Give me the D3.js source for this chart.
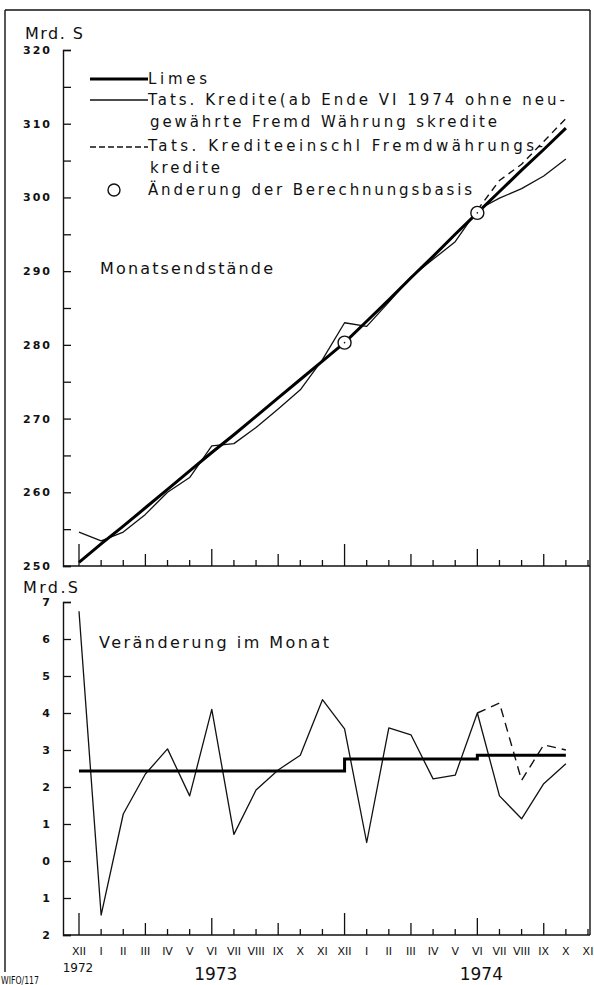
<!DOCTYPE html>
<html><head><meta charset="utf-8">
<script src="https://cdn.jsdelivr.net/npm/d3@7"></script>
<style>
body{margin:0;background:#fff}
svg{display:block}
text{fill:#111}
</style>
</head><body>
<svg id="c" width="594" height="985"></svg>
<script>
// ---------- DATA ----------
const months = ["XII","I","II","III","IV","V","VI","VII","VIII","IX","X","XI",
                "XII","I","II","III","IV","V","VI","VII","VIII","IX","X","XI"];
const years = ["1972","1973","1974"];
const yearMonthIndex = [0, 6, 18];

// Monatsendstände (Mrd. S), XII 1972 .. X 1974
const limesStand  = [250.5,253.0,255.4,257.9,260.4,262.9,265.4,267.8,270.3,272.8,275.3,277.8,
                     280.3,283.2,286.1,289.1,292.0,295.0,297.9,300.8,303.7,306.5,309.4];
const kreditStand = [254.6,253.4,254.6,257.0,260.0,262.0,266.3,266.6,268.8,271.3,273.9,278.0,
                     283.0,282.5,285.8,289.2,291.6,294.0,298.3,299.9,301.2,302.9,305.2];
const kreditFWStart = 18;
const kreditFWStand = [298.3,302.3,304.5,307.6,310.7];
const basisChangeMonths = [12, 18];

// Veränderung im Monat (Mrd. S)
const limesChange  = [2.43,2.43,2.43,2.43,2.43,2.43,2.43,2.43,2.43,2.43,2.43,2.43,
                      2.76,2.76,2.76,2.76,2.76,2.76,2.86,2.86,2.86,2.86,2.86];
const kreditChange = [6.75,-1.46,1.27,2.35,3.03,1.76,4.10,0.72,1.92,2.46,2.86,4.36,
                      3.57,0.50,3.60,3.41,2.22,2.32,4.00,1.76,1.14,2.09,2.63];
const kreditFWChange = [4.00,4.27,2.18,3.14,3.00];

const topTicks = [250,255,260,265,270,275,280,285,290,295,300,305,310,315,320];
const botTicks = [-2,-1,0,1,2,3,4,5,6,7];

const legendLabels = ["Limes",
  "Tats. Kredite(ab Ende VI 1974 ohne neu-",
  "gewährte Fremd Währung skredite",
  "Tats. Krediteeinschl Fremdwährungs-",
  "kredite",
  "Änderung der Berechnungsbasis"];

// ---------- DRAW ----------
const svg = d3.select("#c");
const FONT = "'DejaVu Sans', sans-serif";
const NUMFONT = "'DejaVu Sans', sans-serif";

const x = d3.scalePoint().domain(d3.range(months.length)).range([79, 588]);
const yTop = d3.scaleLinear().domain([250, 320]).range([566, 50]);
const yBot = d3.scaleLinear().domain([-2, 7]).range([935, 602]);

// frame
const frame = svg.append("g").attr("stroke", "#111").attr("stroke-width", 1.4).attr("fill", "none");
frame.append("line").attr("x1", 5).attr("y1", 10).attr("x2", 5).attr("y2", 972);
frame.append("line").attr("x1", 5).attr("y1", 10).attr("x2", 590).attr("y2", 10);
frame.append("line").attr("x1", 590).attr("y1", 10).attr("x2", 590).attr("y2", 935);

// y axes
function yAxis(scale, ticks, fmt) {
  const g = svg.append("g").attr("transform", "translate(63,0)")
    .call(d3.axisLeft(scale).tickValues(ticks).tickSizeInner(-8).tickSizeOuter(-8)
      .tickPadding(11).tickFormat(fmt));
  g.select(".domain").attr("stroke", "#111").attr("stroke-width", 1.4);
  g.selectAll(".tick line").attr("stroke", "#111").attr("stroke-width", 1.3);
  g.selectAll(".tick text").attr("font-family", NUMFONT).attr("font-weight", "bold")
    .attr("font-size", 11).attr("letter-spacing", 2).attr("fill", "#111");
  return g;
}
yAxis(yTop, topTicks, d => d % 10 === 0 ? d : "");
yAxis(yBot, botTicks, d => Math.abs(d));

// x baselines
function xBase(y0) {
  svg.append("line").attr("x1", 63).attr("x2", 590).attr("y1", y0).attr("y2", y0)
    .attr("stroke", "#111").attr("stroke-width", 1.4);
  const tickLen = m => m === "XII" ? 22 : m === "VI" ? 17 : (m === "III" || m === "IX") ? 12 : 6;
  svg.append("g").selectAll("line").data(months).join("line")
    .attr("x1", (d, i) => x(i)).attr("x2", (d, i) => x(i))
    .attr("y1", y0).attr("y2", d => y0 - tickLen(d))
    .attr("stroke", "#111").attr("stroke-width", 1.3);
}
xBase(566);
xBase(935);

// month labels
svg.append("g").selectAll("text").data(months).join("text")
  .attr("x", (d, i) => x(i)).attr("y", 955).attr("text-anchor", "middle")
  .attr("font-family", FONT).attr("font-size", 11).text(d => d);
svg.append("g").selectAll("text").data(years).join("text")
  .attr("x", (d, i) => x(yearMonthIndex[i]) + (i === 0 ? -1 : 4))
  .attr("y", (d, i) => i === 0 ? 972 : 980)
  .attr("text-anchor", "middle").attr("font-family", FONT)
  .attr("font-size", (d, i) => i === 0 ? 12 : 17).text(d => d);
svg.append("text").attr("x", 1).attr("y", 984).attr("font-family", FONT)
  .attr("font-size", 10).attr("textLength", 38).attr("lengthAdjust", "spacingAndGlyphs").text("WIFO/117");

// axis units
svg.append("text").attr("x", 25).attr("y", 39).attr("font-family", FONT).attr("font-size", 16)
  .attr("textLength", 58).attr("lengthAdjust", "spacing").text("Mrd. S");
svg.append("text").attr("x", 23).attr("y", 593).attr("font-family", FONT).attr("font-size", 16)
  .attr("textLength", 55).attr("lengthAdjust", "spacing").text("Mrd.S");

// section titles
svg.append("text").attr("x", 100).attr("y", 274).attr("font-family", FONT).attr("font-size", 16)
  .attr("textLength", 173).attr("lengthAdjust", "spacing").text("Monatsendstände");
svg.append("text").attr("x", 99).attr("y", 648).attr("font-family", FONT).attr("font-size", 16)
  .attr("textLength", 230).attr("lengthAdjust", "spacing").text("Veränderung im Monat");

// ---------- top chart lines ----------
const lineTop = d3.line().x((d, i) => x(i)).y(d => yTop(d));
svg.append("path").datum(kreditStand).attr("d", lineTop)
  .attr("fill", "none").attr("stroke", "#111").attr("stroke-width", 1.3).attr("stroke-linejoin", "round");
svg.append("path").datum(kreditFWStand)
  .attr("d", d3.line().x((d, i) => x(i + kreditFWStart)).y(d => yTop(d)))
  .attr("fill", "none").attr("stroke", "#111").attr("stroke-width", 1.4).attr("stroke-dasharray", "7,5");
svg.append("path").datum(limesStand).attr("d", lineTop)
  .attr("fill", "none").attr("stroke", "#000").attr("stroke-width", 3).attr("stroke-linejoin", "round");
const circ = svg.append("g").selectAll("g").data(basisChangeMonths).join("g")
  .attr("transform", d => `translate(${x(d)},${yTop(limesStand[d])})`);
circ.append("circle").attr("r", 6.5).attr("fill", "#fff").attr("stroke", "#111").attr("stroke-width", 1.4);
circ.append("circle").attr("r", 0.8).attr("fill", "#111");

// ---------- bottom chart lines ----------
const lineBot = d3.line().x((d, i) => x(i)).y(d => yBot(d));
svg.append("path").datum(kreditChange).attr("d", lineBot)
  .attr("fill", "none").attr("stroke", "#111").attr("stroke-width", 1.3).attr("stroke-linejoin", "round");
svg.append("path").datum(kreditFWChange)
  .attr("d", d3.line().x((d, i) => x(i + kreditFWStart)).y(d => yBot(d)))
  .attr("fill", "none").attr("stroke", "#111").attr("stroke-width", 1.4).attr("stroke-dasharray", "9,6");
svg.append("path").datum(limesChange)
  .attr("d", d3.line().x((d, i) => x(i)).y(d => yBot(d)).curve(d3.curveStepAfter))
  .attr("fill", "none").attr("stroke", "#000").attr("stroke-width", 3);

// ---------- legend ----------
const lg = svg.append("g");
const rows = [84, 105, 127, 151, 173, 195];
const widths = [59, 417, 347, 395, 70, 324];
const xs = [148, 148, 150, 148, 150, 148];
lg.selectAll("text").data(legendLabels).join("text")
  .attr("x", (d, i) => xs[i]).attr("y", (d, i) => rows[i])
  .attr("font-family", FONT).attr("font-size", 15)
  .attr("textLength", (d, i) => widths[i]).attr("lengthAdjust", "spacing").text(d => d);
lg.append("line").attr("x1", 90).attr("x2", 148).attr("y1", 79).attr("y2", 79)
  .attr("stroke", "#000").attr("stroke-width", 3);
lg.append("line").attr("x1", 90).attr("x2", 148).attr("y1", 100).attr("y2", 100)
  .attr("stroke", "#111").attr("stroke-width", 1.3);
lg.append("line").attr("x1", 90).attr("x2", 148).attr("y1", 147).attr("y2", 147)
  .attr("stroke", "#111").attr("stroke-width", 1.4).attr("stroke-dasharray", "6,3");
lg.append("circle").attr("cx", 114).attr("cy", 190).attr("r", 6)
  .attr("fill", "#fff").attr("stroke", "#111").attr("stroke-width", 1.4);
</script>
</body></html>
